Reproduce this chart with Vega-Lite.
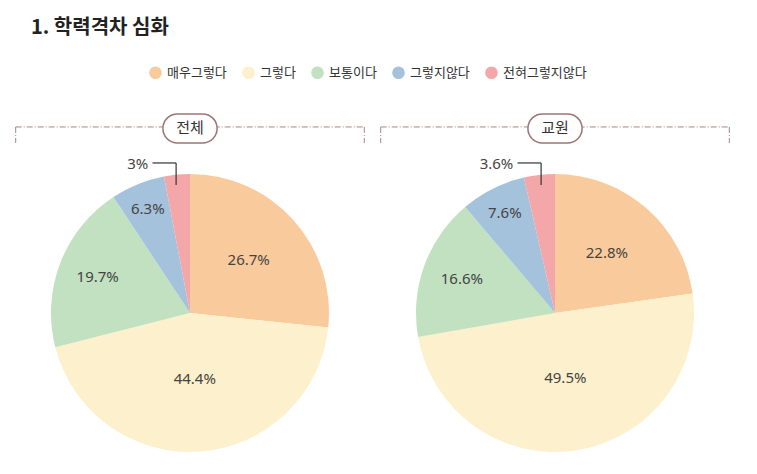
{
  "$schema": "https://vega.github.io/schema/vega-lite/v6.json",
  "background": "white",
  "padding": {"left": 15, "top": 18, "right": 5, "bottom": 5},
  "title": {"text": "1. 학력격차 심화", "anchor": "start", "frame": "group", "dx": 16, "fontSize": 20, "font": "Noto Sans CJK KR", "fontWeight": "bold", "color": "#222222", "offset": 28},
  "data": {"values": [
    {"group": "전체", "category": "매우그렇다", "value": 26.7, "label": "26.7%", "k": 1},
    {"group": "전체", "category": "그렇다", "value": 44.4, "label": "44.4%", "k": 2},
    {"group": "전체", "category": "보통이다", "value": 19.7, "label": "19.7%", "k": 3},
    {"group": "전체", "category": "그렇지않다", "value": 6.3, "label": "6.3%", "k": 4},
    {"group": "전체", "category": "전혀그렇지않다", "value": 3, "label": "3%", "k": 5},
    {"group": "교원", "category": "매우그렇다", "value": 22.8, "label": "22.8%", "k": 1},
    {"group": "교원", "category": "그렇다", "value": 49.5, "label": "49.5%", "k": 2},
    {"group": "교원", "category": "보통이다", "value": 16.6, "label": "16.6%", "k": 3},
    {"group": "교원", "category": "그렇지않다", "value": 7.6, "label": "7.6%", "k": 4},
    {"group": "교원", "category": "전혀그렇지않다", "value": 3.6, "label": "3.6%", "k": 5}
  ]},
  "facet": {"column": {"field": "group", "type": "nominal", "sort": ["전체", "교원"], "header": null}},
  "spacing": 15,
  "spec": {
    "width": 350,
    "height": 350,
    "layer": [
      {
        "transform": [{"filter": "datum.k == 5"}],
        "mark": {"type": "rule", "color": "#a98484", "strokeWidth": 1, "strokeDash": [6, 2, 1, 2]},
        "encoding": {
          "x": {"datum": -1.255, "type": "quantitative", "scale": {"domain": [-1.26, 1.26], "nice": false}, "axis": null},
          "x2": {"datum": 1.255},
          "y": {"datum": 1.338, "type": "quantitative", "scale": {"domain": [-1.0576, 1.46], "nice": false}, "axis": null}
        }
      },
      {
        "transform": [{"filter": "datum.k == 5"}],
        "mark": {"type": "rule", "color": "#a98484", "strokeWidth": 1, "strokeDash": [6, 2, 1, 2]},
        "encoding": {
          "x": {"datum": -1.255, "type": "quantitative"},
          "y": {"datum": 1.338, "type": "quantitative"},
          "y2": {"datum": 1.223}
        }
      },
      {
        "transform": [{"filter": "datum.k == 5"}],
        "mark": {"type": "rule", "color": "#a98484", "strokeWidth": 1, "strokeDash": [6, 2, 1, 2]},
        "encoding": {
          "x": {"datum": 1.255, "type": "quantitative"},
          "y": {"datum": 1.338, "type": "quantitative"},
          "y2": {"datum": 1.223}
        }
      },
      {
        "transform": [{"filter": "datum.k == 5"}],
        "mark": {"type": "rect", "fill": "white", "stroke": "#9e7474", "strokeWidth": 1.5, "cornerRadius": 15},
        "encoding": {
          "x": {"datum": -0.195, "type": "quantitative"},
          "x2": {"datum": 0.195},
          "y": {"datum": 1.432, "type": "quantitative"},
          "y2": {"datum": 1.223}
        }
      },
      {
        "transform": [{"filter": "datum.k == 5"}],
        "mark": {"type": "text", "font": "Noto Sans CJK KR", "fontSize": 15, "color": "#333333", "baseline": "middle", "align": "center"},
        "encoding": {
          "x": {"datum": 0, "type": "quantitative"},
          "y": {"datum": 1.33, "type": "quantitative"},
          "text": {"field": "group"}
        }
      },
      {
        "mark": {"type": "arc", "outerRadius": 139},
        "encoding": {
          "x": {"datum": 0, "type": "quantitative"},
          "y": {"datum": 0, "type": "quantitative"},
          "theta": {"field": "value", "type": "quantitative", "stack": "normalize"},
          "order": {"field": "k", "type": "quantitative", "sort": "ascending"},
          "color": {
            "field": "category", "type": "nominal",
            "scale": {"domain": ["매우그렇다", "그렇다", "보통이다", "그렇지않다", "전혀그렇지않다"], "range": ["#f9cb9c", "#fdf0cc", "#c1e1c0", "#a4c2dc", "#f4a7a8"]},
            "legend": {"orient": "none", "direction": "horizontal", "legendX": 134, "legendY": -44, "title": null, "symbolType": "circle", "symbolSize": 160, "symbolStrokeWidth": 0, "labelFontSize": 13, "labelFont": "Noto Sans CJK KR", "labelColor": "#333333", "columnPadding": 15, "labelOffset": 5}
          }
        }
      },
      {
        "mark": {"type": "text", "radius": 66, "font": "Noto Sans", "fontSize": 15, "color": "#444444"},
        "encoding": {
          "x": {"datum": 0, "type": "quantitative"},
          "y": {"datum": 0, "type": "quantitative"},
          "theta": {"field": "value", "type": "quantitative", "stack": "normalize"},
          "order": {"field": "k", "type": "quantitative", "sort": "ascending"},
          "text": {"condition": {"test": "datum.value < 40", "value": ""}, "field": "label"}
        }
      },
      {
        "mark": {"type": "text", "radius": 79, "font": "Noto Sans", "fontSize": 15, "color": "#444444"},
        "encoding": {
          "x": {"datum": 0, "type": "quantitative"},
          "y": {"datum": 0, "type": "quantitative"},
          "theta": {"field": "value", "type": "quantitative", "stack": "normalize"},
          "order": {"field": "k", "type": "quantitative", "sort": "ascending"},
          "text": {"condition": {"test": "datum.value < 20 || datum.value > 40", "value": ""}, "field": "label"}
        }
      },
      {
        "mark": {"type": "text", "radius": 99, "font": "Noto Sans", "fontSize": 15, "color": "#444444"},
        "encoding": {
          "x": {"datum": 0, "type": "quantitative"},
          "y": {"datum": 0, "type": "quantitative"},
          "theta": {"field": "value", "type": "quantitative", "stack": "normalize"},
          "order": {"field": "k", "type": "quantitative", "sort": "ascending"},
          "text": {"condition": {"test": "datum.value < 10 || datum.value > 20", "value": ""}, "field": "label"}
        }
      },
      {
        "mark": {"type": "text", "radius": 112, "font": "Noto Sans", "fontSize": 15, "color": "#444444"},
        "encoding": {
          "x": {"datum": 0, "type": "quantitative"},
          "y": {"datum": 0, "type": "quantitative"},
          "theta": {"field": "value", "type": "quantitative", "stack": "normalize"},
          "order": {"field": "k", "type": "quantitative", "sort": "ascending"},
          "text": {"condition": {"test": "datum.value < 5 || datum.value > 10", "value": ""}, "field": "label"}
        }
      },
      {
        "transform": [{"filter": "datum.k == 5"}],
        "mark": {"type": "text", "font": "Noto Sans", "fontSize": 15, "color": "#444444", "align": "right", "baseline": "middle"},
        "encoding": {
          "x": {"datum": -0.3, "type": "quantitative"},
          "y": {"datum": 1.072, "type": "quantitative"},
          "text": {"field": "label"}
        }
      },
      {
        "transform": [{"filter": "datum.k == 5"}],
        "mark": {"type": "rule", "color": "#333333", "strokeWidth": 1.2},
        "encoding": {
          "x": {"datum": -0.27, "type": "quantitative"},
          "x2": {"datum": -0.1},
          "y": {"datum": 1.079, "type": "quantitative"}
        }
      },
      {
        "transform": [{"filter": "datum.k == 5"}],
        "mark": {"type": "rule", "color": "#333333", "strokeWidth": 1.2},
        "encoding": {
          "x": {"datum": -0.1, "type": "quantitative"},
          "y": {"datum": 1.079, "type": "quantitative"},
          "y2": {"datum": 0.921}
        }
      }
    ]
  },
  "config": {"view": {"stroke": null}, "font": "Noto Sans CJK KR", "header": {"labels": false, "title": null}}
}
